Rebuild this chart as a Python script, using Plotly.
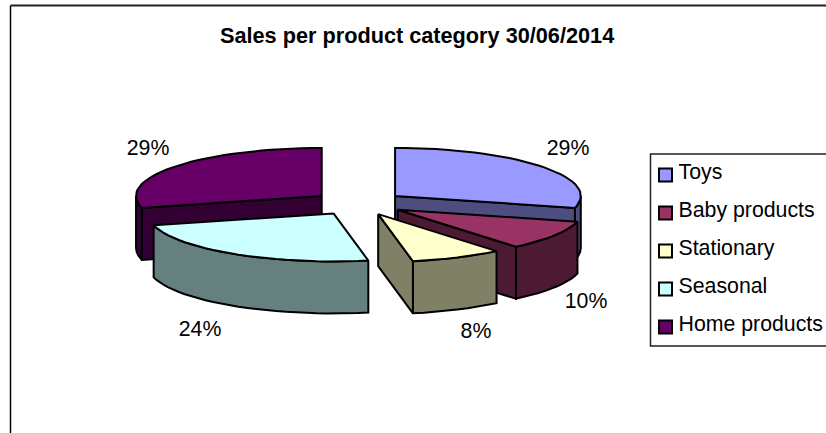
import numpy as np
import plotly.graph_objects as go

# Chart data
categories = ["Toys", "Baby products", "Stationary", "Seasonal", "Home products"]
shares = [29, 10, 8, 24, 29]
top_colors = ["#9999FF", "#993366", "#FFFFCC", "#CCFFFF", "#660066"]
side_colors = ["#4D4D80", "#4D1A33", "#808066", "#668080", "#330033"]

# Projection of the tilted, exploded pie (canvas pixels)
WIDTH, HEIGHT = 826, 433
CENTER_X, CENTER_Y = 358.4, 203.3
RADIUS_X, RADIUS_Y = 185.7, 48.0
DEPTH = 52.0
EXPLODE = 0.25
EDGE = dict(color="black", width=2)

# Percentage labels sit outside the slices
label_x = [568, 586, 476, 200, 148]
label_y = [150, 303, 333, 331, 150]

# Legend layout
LEGEND_LEFT, LEGEND_TOP, LEGEND_BOTTOM = 650.5, 154, 346
SWATCH_X, TEXT_X, FIRST_ROW_Y, ROW_STEP = 665.5, 678.5, 175, 38


def rim_point(angle_deg, cx, cy):
    a = np.radians(angle_deg)
    return cx + RADIUS_X * np.sin(a), cy - RADIUS_Y * np.cos(a)


def arc(start, end, cx, cy):
    count = max(int(abs(end - start) / 3), 2)
    return rim_point(np.linspace(start, end, count), cx, cy)


def polygon(fig, xs, ys, color):
    fig.add_trace(go.Scatter(
        x=list(xs), y=list(ys), mode="lines", fill="toself", fillcolor=color,
        line=EDGE, hoverinfo="skip", showlegend=False,
    ))


def radial_face(fig, angle, cx, cy, color):
    ox, oy = rim_point(angle, cx, cy)
    polygon(fig, [cx, ox, ox, cx, cx],
            [cy, oy, oy + DEPTH, cy + DEPTH, cy], color)


# Slice angles run clockwise from twelve o'clock
bounds = np.concatenate([[0], np.cumsum(shares)]) * 360.0 / sum(shares)
slices = []
for i in range(len(shares)):
    start, end = bounds[i], bounds[i + 1]
    mid = np.radians((start + end) / 2)
    cx = CENTER_X + EXPLODE * RADIUS_X * np.sin(mid)
    cy = CENTER_Y - EXPLODE * RADIUS_Y * np.cos(mid)
    slices.append((cy, i, start, end, cx))

fig = go.Figure()

# Painter's order: the slices further back go first
for cy, i, start, end, cx in sorted(slices, key=lambda s: (round(s[0], 3), s[1])):
    side = side_colors[i]
    # Cut faces turned towards the viewer
    if np.sin(np.radians(end)) > 1e-6:
        radial_face(fig, end, cx, cy, side)
    if np.sin(np.radians(start)) < -1e-6:
        radial_face(fig, start, cx, cy, side)
    # Outer wall, only where the rim faces the viewer
    lo, hi = max(start, 90.0), min(end, 270.0)
    if lo < hi:
        ax, ay = arc(lo, hi, cx, cy)
        polygon(fig,
                np.concatenate([ax, ax[::-1], ax[:1]]),
                np.concatenate([ay, ay[::-1] + DEPTH, ay[:1]]), side)
    # Top surface
    ax, ay = arc(start, end, cx, cy)
    polygon(fig,
            np.concatenate([[cx], ax, [cx]]),
            np.concatenate([[cy], ay, [cy]]), top_colors[i])

# Percentage labels
fig.add_trace(go.Scatter(
    x=label_x, y=label_y, mode="text",
    text=[f"{v}%" for v in shares], textposition="middle center",
    textfont=dict(family="Liberation Sans", size=21.3, color="black"),
    hoverinfo="skip", showlegend=False,
))

# Legend rows: swatch plus category name
rows_y = [FIRST_ROW_Y + k * ROW_STEP for k in range(len(categories))]
fig.add_trace(go.Scatter(
    x=[SWATCH_X] * len(categories), y=rows_y, mode="markers",
    marker=dict(symbol="square", size=13, color=top_colors,
                line=dict(color="black", width=2)),
    hoverinfo="skip", showlegend=False,
))
fig.add_trace(go.Scatter(
    x=[TEXT_X] * len(categories), y=[y - 1.5 for y in rows_y], mode="text",
    text=categories, textposition="middle right",
    textfont=dict(family="Liberation Sans", size=21.3, color="black"),
    hoverinfo="skip", showlegend=False,
))

shapes = [
    # Legend box, open on the right where the canvas ends
    dict(type="rect", xref="x", yref="y", x0=LEGEND_LEFT, x1=WIDTH + 5,
         y0=LEGEND_TOP, y1=LEGEND_BOTTOM, line=dict(color="#222222", width=1.5),
         fillcolor="rgba(0,0,0,0)", layer="below"),
    # Chart area frame
    dict(type="line", xref="x", yref="y", x0=10.5, x1=10.5, y0=5.5, y1=HEIGHT,
         line=dict(color="black", width=1.5)),
    dict(type="line", xref="x", yref="y", x0=10.5, x1=WIDTH, y0=5.5, y1=5.5,
         line=dict(color="#222222", width=2)),
]

fig.update_layout(
    width=WIDTH, height=HEIGHT,
    margin=dict(l=0, r=0, t=0, b=0),
    paper_bgcolor="white", plot_bgcolor="white",
    showlegend=False,
    shapes=shapes,
    xaxis=dict(range=[0, WIDTH], visible=False, fixedrange=True),
    yaxis=dict(range=[HEIGHT, 0], visible=False, fixedrange=True),
    annotations=[dict(
        text="<b>Sales per product category 30/06/2014</b>",
        xref="x", yref="y", x=416.5, y=35, showarrow=False,
        font=dict(family="Liberation Sans", size=21.7, color="black"),
    )],
)

fig.write_html("out.html", config=dict(displayModeBar=False))
